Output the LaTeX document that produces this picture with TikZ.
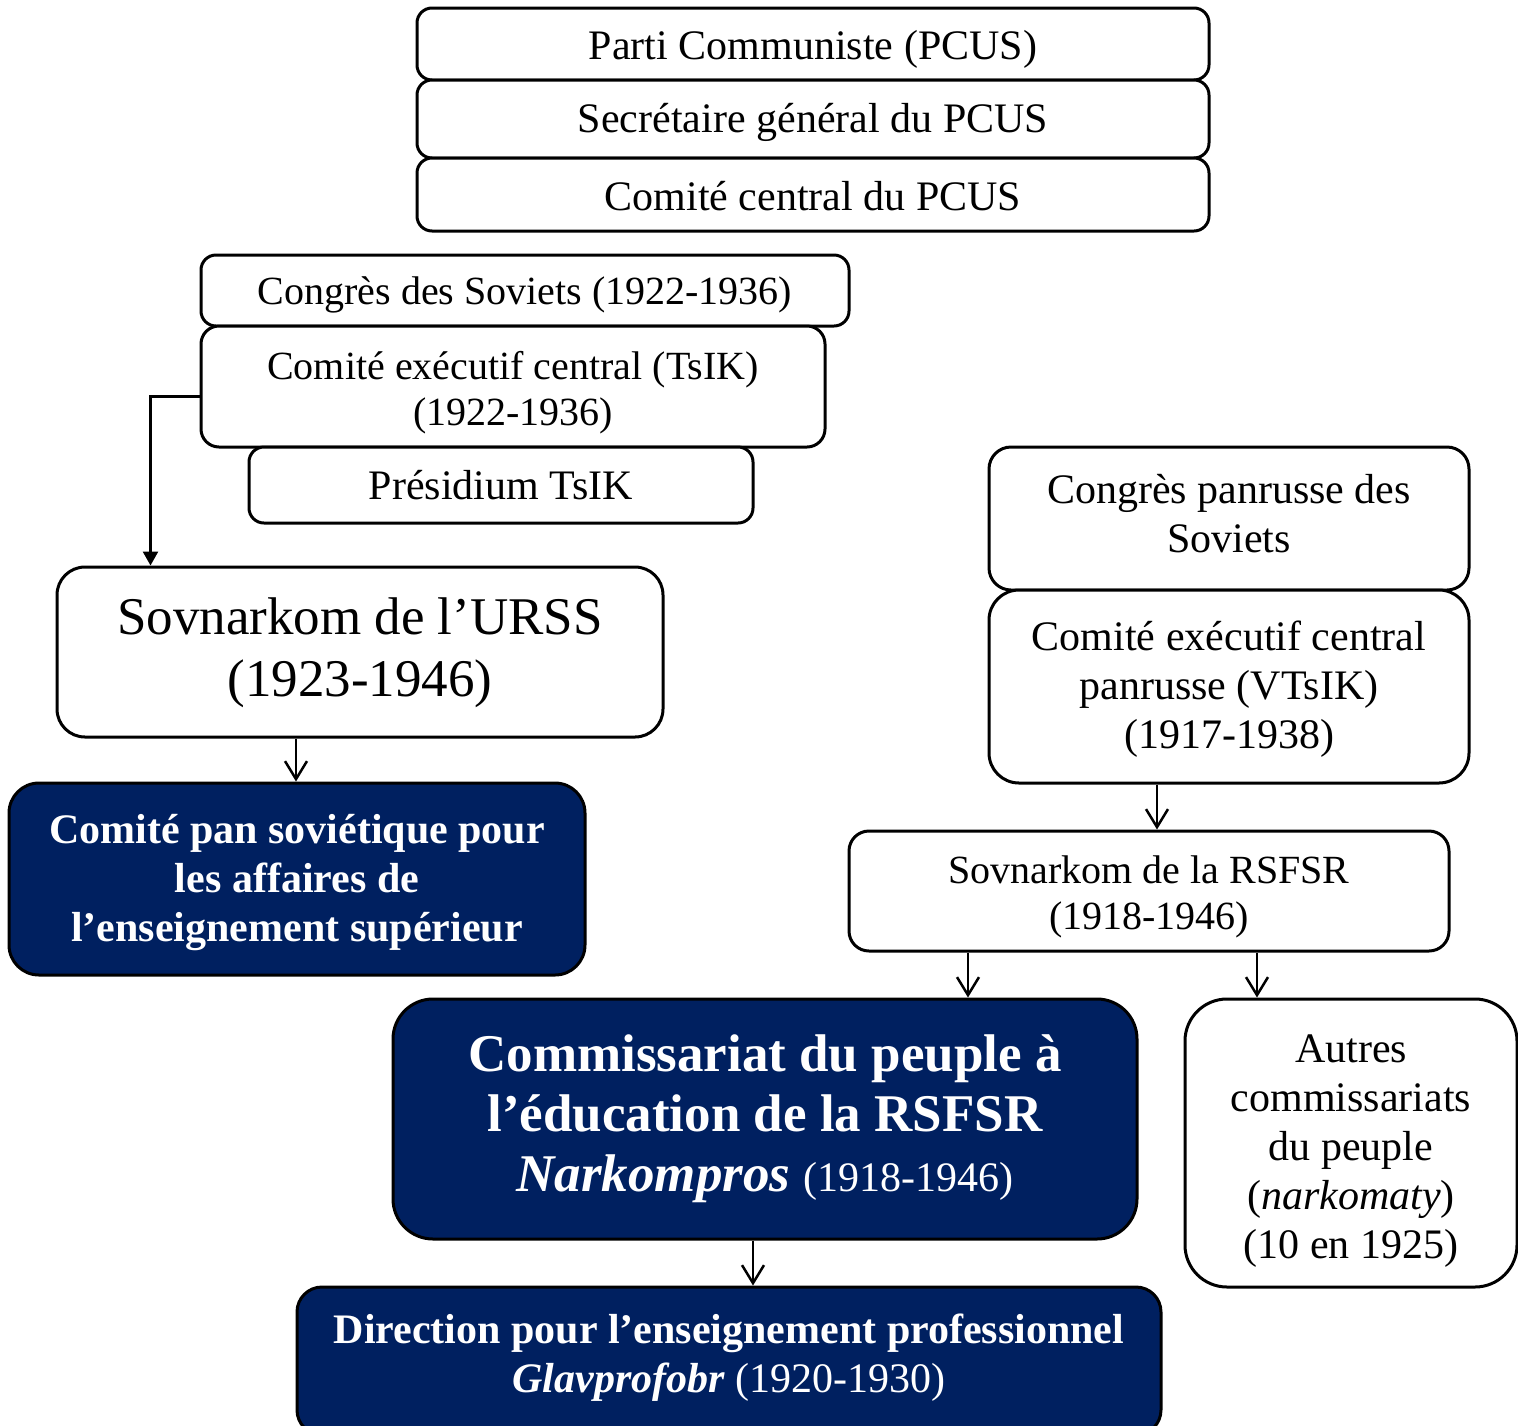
\documentclass[tikz,border=0pt]{standalone}
\usepackage{fontspec}
\setmainfont{Liberation Serif}
\usetikzlibrary{arrows.meta,calc}
\definecolor{darknavy}{RGB}{0,32,96}
\newcommand{\fsmall}{\fontsize{40}{46}\selectfont}
\newcommand{\fnorm}{\fontsize{42}{49}\selectfont}
\newcommand{\fbig}{\fontsize{53}{62}\selectfont}
\newcommand{\fhuge}{\fontsize{53}{60}\selectfont}

\begin{document}
\begin{tikzpicture}[x=1pt,y=1pt,yscale=-1,xscale=1,
  whitebox/.style={draw=black,line width=3pt,fill=white,align=center,inner sep=0pt,font=\fnorm},
  navybox/.style={draw=black,line width=3pt,fill=darknavy,text=white,align=center,inner sep=0pt,font=\fnorm\bfseries},
  txtdrop/.style={text height=#1,text depth=0pt},
  link/.style={line width=2.5pt,-{Straight Barb[length=18pt,width=22pt]}},
  linkfill/.style={line width=2.5pt,-{Triangle[length=14pt,width=15pt]}}]
\useasboundingbox (0,0) rectangle (1518,1425);
\clip (0,0) rectangle (1518,1425);

%Party boxes
\node[whitebox,txtdrop=31pt,rounded corners=15pt,minimum width=792pt,minimum height=72pt] (pcus) at (813,44) {Parti Communiste (PCUS)};
\node[whitebox,txtdrop=26pt,rounded corners=15pt,minimum width=792pt,minimum height=78pt] (secgen) at (813,119) {Secrétaire général du PCUS};
\node[whitebox,txtdrop=32pt,rounded corners=15pt,minimum width=792pt,minimum height=73pt] (ccpcus) at (813,194.5) {Comité central du PCUS};

%USSR side
\node[whitebox,font=\fsmall,txtdrop=28pt,rounded corners=15pt,minimum width=648pt,minimum height=71pt] (congres) at (525,290.5) {Congrès des Soviets (1922-1936)};
\node[whitebox,font=\fsmall,txtdrop=78pt,rounded corners=18pt,minimum width=624pt,minimum height=121pt] (tsik) at (513,386.5) {Comité exécutif central (TsIK)\\(1922-1936)};
\node[whitebox,txtdrop=29pt,rounded corners=15pt,minimum width=504pt,minimum height=76pt] (presidium) at (501,485) {Présidium TsIK};
\node[whitebox,font=\fbig,txtdrop=88pt,rounded corners=28pt,minimum width=606pt,minimum height=170pt] (sovurss) at (360,652) {Sovnarkom de l’URSS\\(1923-1946)};
\node[navybox,txtdrop=124pt,rounded corners=30pt,minimum width=576pt,minimum height=192pt] (comitepan) at (297,879) {Comité pan soviétique pour\\les affaires de\\l’enseignement supérieur};

%RSFSR side
\node[whitebox,txtdrop=68pt,rounded corners=22pt,minimum width=480pt,minimum height=143pt] (congrespan) at (1229,518.5) {Congrès panrusse des\\Soviets};
\node[whitebox,txtdrop=124pt,rounded corners=30pt,minimum width=480pt,minimum height=193pt] (vtsik) at (1229,686.5) {Comité exécutif central\\panrusse (VTsIK)\\(1917-1938)};
\node[whitebox,font=\fsmall,txtdrop=77pt,rounded corners=20pt,minimum width=600pt,minimum height=120pt] (sovrsfsr) at (1149,891) {Sovnarkom de la RSFSR\\(1918-1946)};
\node[navybox,font=\fhuge\bfseries,txtdrop=144pt,rounded corners=40pt,minimum width=744pt,minimum height=240pt] (narkompros) at (765,1119) {Commissariat du peuple à\\l’éducation de la RSFSR\\\textit{Narkompros} {\fnorm\mdseries(1918-1946)}};
\node[whitebox,txtdrop=230pt,rounded corners=42pt,minimum width=332pt,minimum height=288pt] (autres) at (1351,1143) {Autres\\commissariats\\du peuple\\(\textit{narkomaty})\\(10 en 1925)};
\node[navybox,txtdrop=63pt,rounded corners=25pt,minimum width=864pt,minimum height=148pt] (glav) at (729,1361) {Direction pour l’enseignement professionnel\\\textit{Glavprofobr} {\mdseries(1920-1930)}};

%Arrows
\draw[linkfill] ($(tsik.west)+(0,10)$) -| ([xshift=95pt]sovurss.north west);
\draw[link] ([xshift=-64pt]sovurss.south) -- ([xshift=-1pt]comitepan.north);
\draw[link] ([xshift=-72pt]vtsik.south) -- ([xshift=8pt]sovrsfsr.north);
\draw[link] ([xshift=-181pt]sovrsfsr.south) -- ([xshift=203pt]narkompros.north);
\draw[link] ([xshift=108pt]sovrsfsr.south) -- ([xshift=-94pt]autres.north);
\draw[link] ([xshift=-12pt]narkompros.south) -- ([xshift=24pt]glav.north);

\end{tikzpicture}
\end{document}
